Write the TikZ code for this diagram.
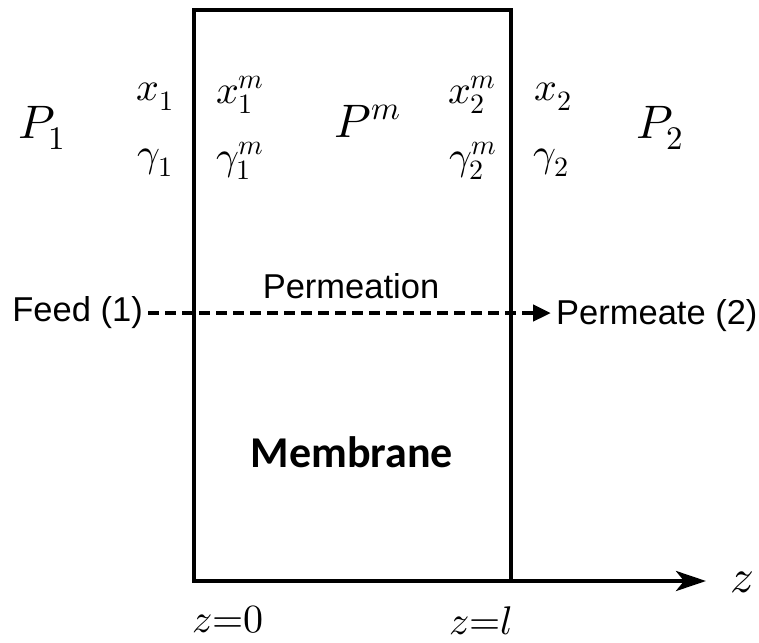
\documentclass[tikz,border=0pt]{standalone}
\usepackage{fontspec}
\usepackage{unicode-math}
\setmathfont{Latin Modern Math}
\setmainfont{Liberation Sans}
\newfontfamily\calfont{Carlito}
\usetikzlibrary{arrows.meta}
\tikzset{
  big/.style={inner sep=0pt, font=\fontsize{47}{50}\selectfont},
  small/.style={inner sep=0pt, font=\fontsize{40}{42}\selectfont},
  sans/.style={inner sep=0pt, font=\fontsize{34.5}{38}\selectfont},
  thick line/.style={line width=4pt},
}
\begin{document}
\begin{tikzpicture}[x=1pt,y=-1pt]
\useasboundingbox (0,0) rectangle (759,642);
% membrane box
\coordinate (tl) at (194,10);
\coordinate (br) at (511,581);
\coordinate (bl) at (194,581);
\coordinate (zend) at (706,581);
\draw[thick line] (tl) rectangle (br);
\draw[thick line,-{Stealth[length=30pt,width=20pt,inset=8pt]}] (bl) -- (zend);
\node[big] (zlab) at (742,582) {$z$};
\node[small] (z0) at (228,620) {$z{=}0$};
\node[small] (zl) at (481,621) {$z{=}l$};
% variables
\node[big] (P1) at (42,128) {$P_1$};
\node[small] (x1) at (155,97) {$x_1$};
\node[small] (g1) at (155,163) {$\gamma_1$};
\node[small] (x1m) at (240,95) {$x_1^m$};
\node[small] (g1m) at (240,161) {$\gamma_1^m$};
\node[big] (Pm) at (368,121) {$P^m$};
\node[small] (x2m) at (472,95) {$x_2^m$};
\node[small] (g2m) at (473,161) {$\gamma_2^m$};
\node[small] (x2) at (553,97) {$x_2$};
\node[small] (g2) at (551,163) {$\gamma_2$};
\node[big] (P2) at (660,128) {$P_2$};
% permeation
\node[sans,anchor=east] (feed) at (143,313) {Feed (1)};
\node[sans,anchor=west] (perm) at (556,316) {Permeate (2)};
\node[sans] (permeation) at (351,286) {Permeation};
\draw[line width=4.5pt,dash pattern=on 11pt off 6pt,-{Triangle[length=18pt,width=16pt]}] ([xshift=5pt]feed.east) -- ([xshift=-5pt]perm.west |- feed.east);
\node[inner sep=0pt,font=\calfont\bfseries\fontsize{44}{46}\selectfont] (memb) at (352,452) {Membrane};
\end{tikzpicture}
\end{document}
